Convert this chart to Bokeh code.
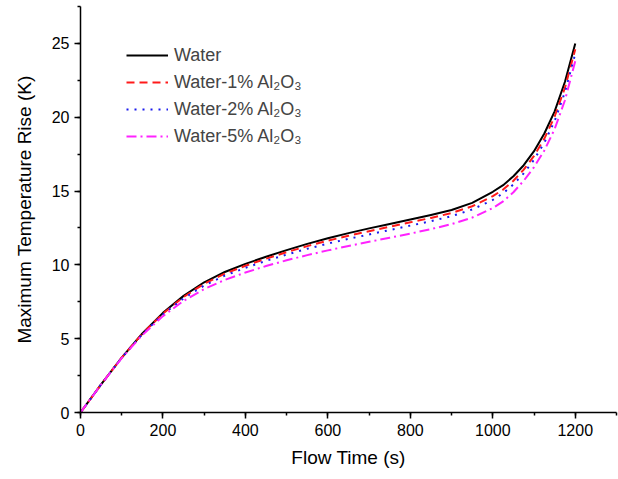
from bokeh.plotting import figure
from bokeh.models import Legend, LegendItem, SingleIntervalTicker, Range1d
from bokeh.embed import file_html
from bokeh.resources import INLINE

time_s = [0, 50, 100, 150, 200, 250, 300, 350, 400, 450, 500, 550, 600, 650,
          700, 750, 800, 850, 900, 950, 1000, 1025, 1050, 1075, 1100, 1125, 1150, 1175, 1200]
water = [0, 1.9, 3.72, 5.35, 6.75, 7.9, 8.82, 9.52, 10.07, 10.55, 11.0, 11.42, 11.8,
         12.15, 12.47, 12.77, 13.07, 13.38, 13.72, 14.2, 14.95, 15.4, 16.0, 16.75,
         17.7, 18.9, 20.4, 22.4, 25.0]
water_1 = [0, 1.9, 3.72, 5.34, 6.7, 7.82, 8.72, 9.4, 9.94, 10.42, 10.86, 11.27, 11.64,
           11.97, 12.28, 12.58, 12.88, 13.18, 13.51, 13.97, 14.65, 15.1, 15.7, 16.45,
           17.38, 18.55, 20.05, 22.0, 24.6]
water_2 = [0, 1.9, 3.71, 5.31, 6.64, 7.73, 8.6, 9.27, 9.8, 10.27, 10.7, 11.09, 11.44,
           11.76, 12.06, 12.36, 12.66, 12.96, 13.3, 13.75, 14.4, 14.85, 15.45, 16.2,
           17.12, 18.28, 19.75, 21.7, 24.3]
water_5 = [0, 1.9, 3.69, 5.25, 6.53, 7.56, 8.36, 8.98, 9.48, 9.92, 10.31, 10.66, 10.98,
           11.28, 11.56, 11.84, 12.12, 12.42, 12.76, 13.2, 13.85, 14.3, 14.92, 15.7,
           16.62, 17.75, 19.2, 21.15, 23.8]
labels = ["Water", "Water-1% Al\u2082O\u2083", "Water-2% Al\u2082O\u2083", "Water-5% Al\u2082O\u2083"]

FONT = "Liberation Sans"

p = figure(width=618, height=479, output_backend="svg", toolbar_location=None,
           x_range=Range1d(0, 1300), y_range=Range1d(0, 27.5),
           min_border_left=80, min_border_right=2, min_border_top=6, min_border_bottom=67)
p.outline_line_color = None
p.xgrid.visible = False
p.ygrid.visible = False

styles = [
    dict(color="black", dash="solid"),
    dict(color="#ff1a1a", dash="8 5"),
    dict(color="#1a1aee", dash="2 6"),
    dict(color="#ff22ff", dash="10 4 2 4"),
]
series = [water, water_1, water_2, water_5]
renderers = []
for ys, st in zip(series, styles):
    r = p.line(time_s, ys, line_color=st["color"], line_dash=st["dash"], line_width=2,
               line_join="round")
    renderers.append(r)

legend = Legend(items=[LegendItem(label=l, renderers=[r]) for l, r in zip(labels, renderers)],
                location=(46, 264), padding=0, spacing=3, label_height=24, glyph_height=24,
                glyph_width=42, label_standoff=6, label_text_font=FONT,
                label_text_font_size="18px", border_line_color=None,
                background_fill_alpha=0)
p.add_layout(legend)

for ax in (p.xaxis, p.yaxis):
    ax.axis_line_width = 1.5
    ax.axis_line_color = "black"
    ax.major_tick_line_width = 1.5
    ax.minor_tick_line_width = 1.5
    ax.major_tick_out = 6
    ax.major_tick_in = 0
    ax.minor_tick_out = 3
    ax.minor_tick_in = 0
    ax.major_label_text_font = FONT
    ax.major_label_text_font_size = "16px"
    ax.major_label_text_color = "black"
    ax.axis_label_text_font = FONT
    ax.axis_label_text_font_size = "19px"
    ax.axis_label_text_font_style = "normal"
    ax.axis_label_text_color = "black"

p.xaxis.ticker = SingleIntervalTicker(interval=200, num_minor_ticks=2)
p.yaxis.ticker = SingleIntervalTicker(interval=5, num_minor_ticks=2)
p.xaxis.axis_label = "Flow Time (s)"
p.yaxis.axis_label = "Maximum Temperature Rise (K)"
p.xaxis.axis_label_standoff = 8
p.yaxis.axis_label_standoff = 14

open("out.html", "w").write(file_html(p, INLINE))
